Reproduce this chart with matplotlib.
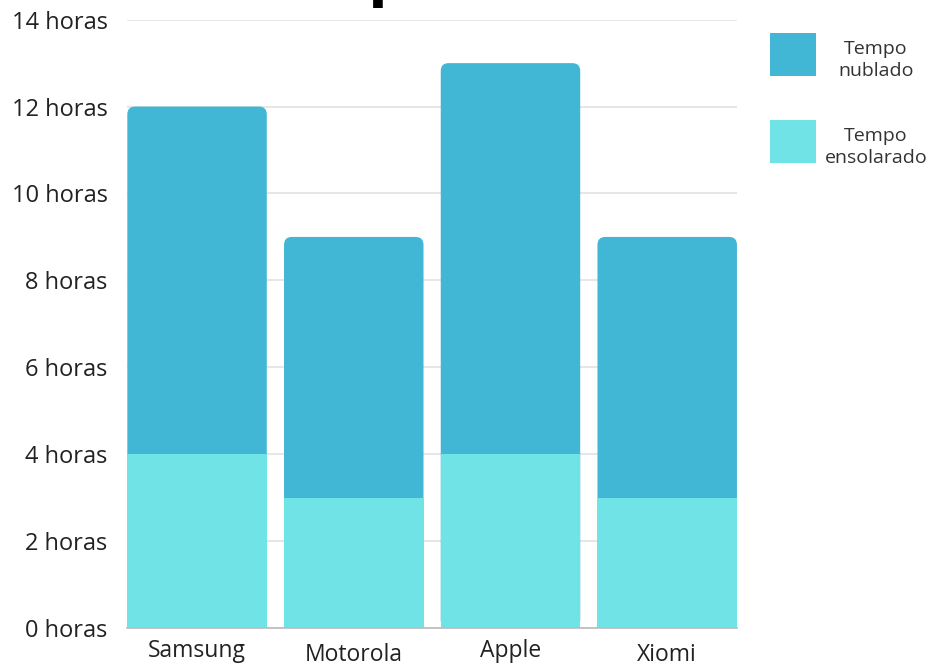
import matplotlib
matplotlib.use("Agg")
import matplotlib.pyplot as plt
import matplotlib.transforms as mtransforms
from matplotlib.patches import FancyBboxPatch, Rectangle

brands = ["Samsung", "Motorola", "Apple", "Xiomi"]
sunny = [4, 3, 4, 3]       # Tempo ensolarado
cloudy = [8, 6, 9, 6]      # Tempo nublado
yticks = [0, 2, 4, 6, 8, 10, 12, 14]
ytick_labels = [f"{v} horas" for v in yticks]

DARK = "#42B7D5"
LIGHT = "#6FE3E6"
FONT = "Open Sans"

plt.rcParams["font.family"] = [FONT, "DejaVu Sans"]

fig = plt.figure(figsize=(9.31, 6.67), dpi=100)
ax = fig.add_axes([0.1364, 0.0585, 0.6555, 0.912])

width = 0.89
x = list(range(len(brands)))
totals = [s + c for s, c in zip(sunny, cloudy)]

# full-height dark bars with rounded tops, light bars drawn over the bottom part
dark_bars = ax.bar(x, totals, width=width, color=DARK, zorder=2)
for b in dark_bars:
    b.set_visible(False)
    patch = FancyBboxPatch(
        (b.get_x(), b.get_y()), b.get_width(), b.get_height(),
        boxstyle="round,pad=0,rounding_size=0.05", mutation_aspect=3.6,
        facecolor=DARK, edgecolor="none", zorder=2,
    )
    ax.add_patch(patch)
ax.bar(x, sunny, width=width, color=LIGHT, zorder=3)

ax.set_xlim(-0.447, 3.447)
ax.set_ylim(0, 14)
ax.set_yticks(yticks)
ax.set_yticklabels(ytick_labels)
ax.set_xticks(x)
ax.set_xticklabels(brands)
ax.tick_params(axis="y", length=0, pad=14, labelsize=17, labelcolor="#222222")
ax.tick_params(axis="x", length=0, pad=8, labelsize=16.5, labelcolor="#222222")
# Motorola and Xiomi sit a little lower in the original
for lbl, dy in zip(ax.get_xticklabels(), [0, -4, 0, -4]):
    lbl.set_transform(lbl.get_transform() +
                      mtransforms.ScaledTranslation(0, dy / 100, fig.dpi_scale_trans))

ax.grid(axis="y", color="#e2e2e2", linewidth=1.2, zorder=0)
ax.set_axisbelow(True)
for side in ["top", "right", "left"]:
    ax.spines[side].set_visible(False)
ax.spines["bottom"].set_color("#bbbbbb")
ax.spines["bottom"].set_linewidth(1.2)
ax.spines["bottom"].set_zorder(4)

# title mostly outside the canvas (only the descender shows in the original)
fig.text(0.246, 1.012, "Tempo de bateria", fontsize=48, fontweight="bold",
         ha="left", va="baseline", color="black")

# legend
fig.patches.append(Rectangle((770 / 931, 1 - 76 / 667), 46 / 931, 43 / 667,
                             transform=fig.transFigure, facecolor=DARK,
                             edgecolor="none"))
fig.patches.append(Rectangle((770 / 931, 1 - 163 / 667), 46 / 931, 43 / 667,
                             transform=fig.transFigure, facecolor=LIGHT,
                             edgecolor="none"))
fig.text(876 / 931, 1 - 60 / 667, "Tempo\nnublado", fontsize=14, ha="center",
         va="center", color="#333333", linespacing=1.25)
fig.text(876 / 931, 1 - 147 / 667, "Tempo\nensolarado", fontsize=14,
         ha="center", va="center", color="#333333", linespacing=1.25)

fig.savefig("out.png", dpi=100, facecolor="white")
